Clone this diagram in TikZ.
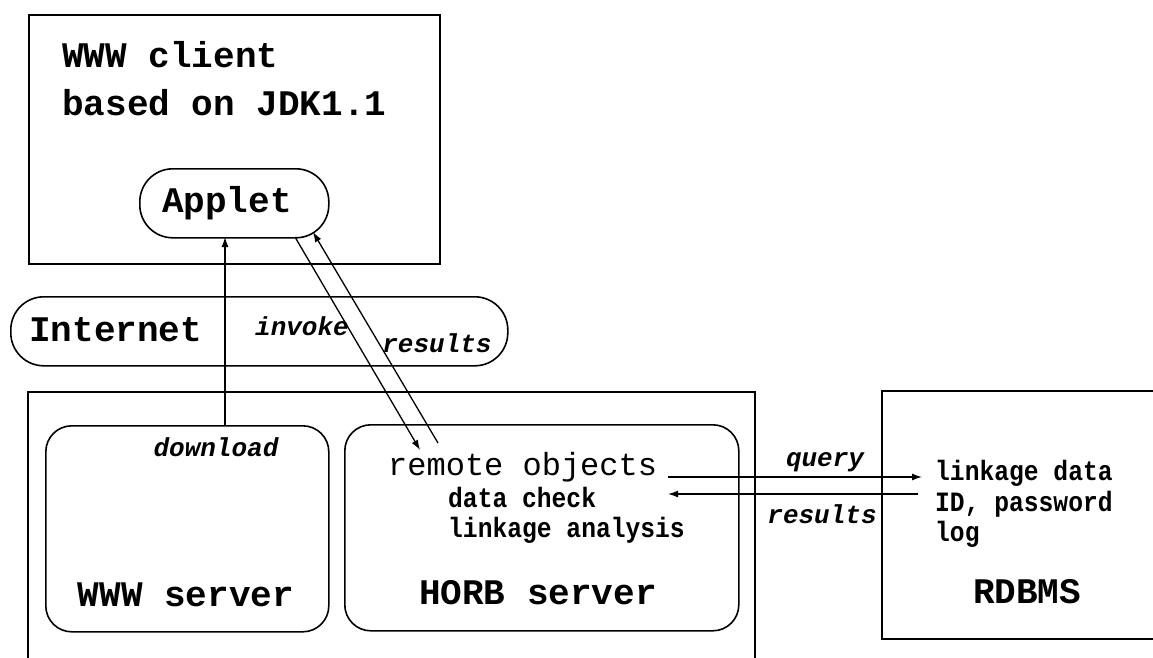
\documentclass[tikz,border=0pt]{standalone}
\usepackage{fontspec}
\usetikzlibrary{arrows.meta}
\newfontfamily\cour{Liberation Mono}
\newfontfamily\courcond[FakeStretch=0.88]{Liberation Mono}
\begin{document}
\begin{tikzpicture}[x=1pt,y=-1pt,
  box/.style={draw, line width=1.6pt},
  rbox/.style={draw, line width=1.6pt, rounded corners=26pt},
  lbl/.style={font=\cour\bfseries\fontsize{36}{40}\selectfont, inner sep=0pt},
  reg/.style={font=\cour\fontsize{32}{36}\selectfont, inner sep=0pt},
  ital/.style={font=\cour\bfseries\itshape\fontsize{26}{30}\selectfont, inner sep=0pt},
  cond/.style={font=\courcond\bfseries\fontsize{28}{32}\selectfont, inner sep=0pt},
  arr/.style={-{Latex[length=10pt,width=7pt]}, line width=1.3pt}]
\useasboundingbox (0,0) rectangle (1153,657);
\clip (0,0) rectangle (1153,657);
% WWW client box
\node[box, minimum width=411pt, minimum height=249pt, anchor=north west] (client) at (28,14) {};
\node[lbl, anchor=base west] (t1) at (62,67) {WWW client};
\node[lbl, anchor=base west] (t2) at (62,115) {based on JDK1.1};
% Applet
\node[draw, line width=1.6pt, rounded corners=33pt, minimum width=189pt, minimum height=69pt, anchor=north west] (applet) at (139,168) {};
\node[lbl, anchor=base] (applett) at (227,212) {Applet};
% Internet
\node[draw, line width=1.6pt, rounded corners=33pt, minimum width=497pt, minimum height=69pt, anchor=north west] (inet) at (10,296) {};
\node[lbl, anchor=base west] (inett) at (29,341) {Internet};
% big server box (open at the bottom)
\draw[box] (28,670) -- (28,392) -- (755,392) -- (755,670);
% WWW server
\node[rbox, minimum width=283pt, minimum height=206pt, anchor=north west] (www) at (45,425) {};
\node[lbl, anchor=base] (wwwt) at (186,606) {WWW server};
\node[ital, anchor=base] (dl) at (216,456) {download};
% HORB server
\node[rbox, minimum width=394pt, minimum height=206pt, anchor=north west] (horb) at (344,424) {};
\node[reg, anchor=base west] (ro) at (388,475) {remote objects};
\node[cond, anchor=base west] (dc) at (448,507) {data check};
\node[cond, anchor=base west] (la) at (448,537) {linkage analysis};
\node[lbl, anchor=base] (horbt) at (538,604) {HORB server};
% RDBMS box (open at the right)
\draw[box] (1170,391) -- (882,391) -- (882,639) -- (1170,639);
\node[cond, anchor=base west] (ld) at (935,480) {linkage data};
\node[cond, anchor=base west] (idp) at (935,511) {ID, password};
\node[cond, anchor=base west] (lg) at (935,541) {log};
\node[lbl, anchor=base] (rdb) at (1027,603) {RDBMS};
% labels
\node[ital, anchor=base] (inv) at (302,335) {invoke};
\node[ital, anchor=base] (res1) at (437,352) {results};
\node[ital, anchor=base] (qry) at (825,466) {query};
\node[ital, anchor=base] (res2) at (822,523) {results};
% connector end points
\coordinate (dlA) at (225,425);
\coordinate (dlB) at (225,237);
\coordinate (invA) at (295,237);
\coordinate (invB) at (420,450);
\coordinate (resA) at (438,443);
\coordinate (resB) at (313,232);
\coordinate (qA) at (668,477);
\coordinate (qB) at (922,477);
\coordinate (rA) at (918,494);
\coordinate (rB) at (668,494);
\draw[arr] (dlA) -- (dlB);
\draw[arr] (invA) -- (invB);
\draw[arr] (resA) -- (resB);
\draw[arr] (qA) -- (qB);
\draw[arr] (rA) -- (rB);
\end{tikzpicture}
\end{document}
